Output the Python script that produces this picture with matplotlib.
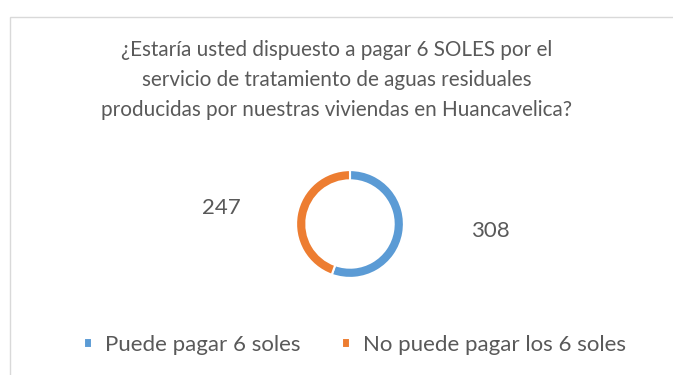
import matplotlib.pyplot as plt
from matplotlib.patches import Rectangle

categorias = ["Puede pagar 6 soles", "No puede pagar los 6 soles"]
valores = [308, 247]
colores = ["#5B9BD5", "#ED7D31"]
titulo = ("¿Estaría usted dispuesto a pagar 6 SOLES por el\n"
          "servicio de tratamiento de aguas residuales\n"
          "producidas por nuestras viviendas en Huancavelica?")

plt.rcParams['font.family'] = ['Lato', 'DejaVu Sans']
gris = "#595959"

W, H = 673, 375
fig = plt.figure(figsize=(W / 100, H / 100), dpi=100)

# marco del gráfico
fig.patches.append(Rectangle((10 / W, -0.1), 1.2, 1 - 17 / H + 0.1,
                             transform=fig.transFigure, fill=False,
                             edgecolor="#D9D9D9", linewidth=1))

cx, cy, r = 350, H - 224, 55
ax = fig.add_axes([(cx - r) / W, (cy - r) / H, 2 * r / W, 2 * r / H])
wedges, _ = ax.pie(valores, colors=colores, startangle=90, counterclock=False,
                   radius=1, wedgeprops=dict(width=0.19, edgecolor="white",
                                             linewidth=1.5))
ax.set_xlim(-1.02, 1.02)
ax.set_ylim(-1.02, 1.02)
ax.set_aspect("equal")
ax.axis("off")

fig.text(0.5, 1 - 80 / H, titulo, ha="center", va="center", fontsize=14.9,
         color=gris, linespacing=1.64)

# etiquetas de valores
fig.text(490 / W, 1 - 231 / H, str(valores[0]), ha="center", va="center",
         fontsize=16, color=gris)
fig.text(221 / W, 1 - 208 / H, str(valores[1]), ha="center", va="center",
         fontsize=16, color=gris)

fig.legend(wedges, categorias, loc="center", bbox_to_anchor=(355 / W, 1 - 345 / H),
           ncol=2, frameon=False, fontsize=16, labelcolor=gris,
           handlelength=0.36, handleheight=0.36, handletextpad=0.55,
           columnspacing=1.9)

fig.savefig("out.png", dpi=100)
